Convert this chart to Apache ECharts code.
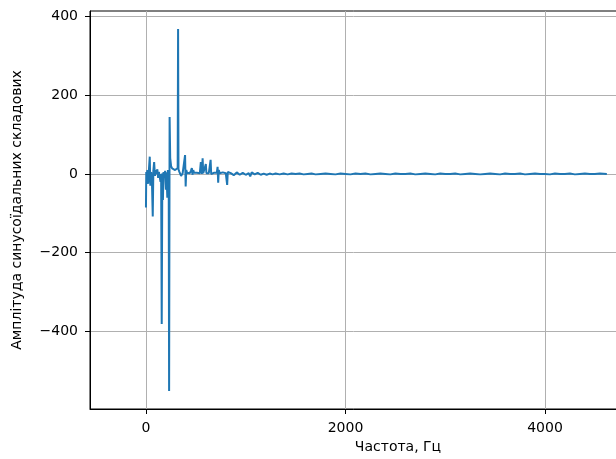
<!DOCTYPE html>
<html>
<head>
<meta charset="utf-8">
<script src="https://cdn.jsdelivr.net/npm/echarts@6/dist/echarts.min.js"></script>
<style>html,body{margin:0;padding:0;background:#fff;}#c{width:616px;height:459px;}</style>
</head>
<body>
<div id="c"></div>
<script>
// Frequency (Hz) and amplitude values
const freqs = [
  0, 3, 8, 14, 22, 28, 38, 44, 52, 60, 68, 74, 82, 90, 98, 106, 114, 122, 130, 138,
  146, 152, 158, 164, 170, 176, 184, 192, 200, 206, 214, 220, 228, 232, 237, 243, 252, 262, 272, 282,
  292, 302, 312, 318, 322, 326, 334, 344, 352, 360, 368, 376, 384, 392, 398, 404, 412, 420, 430, 440,
  450, 460, 466, 474, 482, 490, 500, 510, 520, 530, 540, 550, 560, 568, 574, 582, 590, 600, 606, 612,
  620, 630, 640, 648, 654, 662, 670, 680, 690, 700, 710, 718, 724, 730, 740, 750, 760, 770, 780, 790,
  800, 808, 814, 820, 830, 840, 850, 880, 910, 940, 970, 1000, 1030, 1045, 1060, 1090, 1120, 1150, 1180, 1210,
  1240, 1270, 1300, 1340, 1380, 1420, 1460, 1500, 1540, 1580, 1620, 1660, 1700, 1750, 1800, 1850, 1900, 1950, 2000, 2050,
  2100, 2150, 2200, 2250, 2300, 2350, 2400, 2450, 2500, 2550, 2600, 2650, 2700, 2750, 2800, 2850, 2900, 2950, 3000, 3050,
  3100, 3150, 3200, 3250, 3300, 3350, 3400, 3450, 3500, 3550, 3600, 3650, 3700, 3750, 3800, 3850, 3900, 3950, 4000, 4050,
  4100, 4150, 4200, 4250, 4300, 4350, 4400, 4450, 4500, 4550, 4620
];
const amps = [
  -85, 5, -15, 10, -25, 5, 44, -30, 5, -20, -108, 8, 30, -5, 10, 0, 12, -10, 5, 6,
  -20, 0, -381, 2, -66, 5, -10, 8, -40, 4, -60, 10, 0, -551, 145, 40, 20, 14, 15, 12,
  10, 8, 12, 15, 368, 12, 6, 3, -5, -7, 2, 4, -3, 48, -32, 10, 3, 5, 0, 2,
  8, 15, -2, 10, 3, 5, 2, 3, 0, 4, 2, 30, 0, 40, 2, 5, 3, 25, 2, 3,
  1, 2, 0, 36, 0, 3, 2, 3, 4, 0, 3, 18, -22, 10, 2, 3, 2, 4, 1, 3,
  2, 5, -28, 5, 0, 3, 2, -3, 4, -2, 3, -2, 2, -6, 4, -1, 3, -2, 1, -2,
  1, -1, 1, -1, 1, -1, 1, 0, 1, -1, 0, 1, -1, 0, 1, 0, -1, 1, 0, -1,
  1, 0, 1, -1, 0, 1, 0, -1, 1, 0, 0, 1, -1, 0, 1, 0, -1, 1, 0, 0,
  1, -1, 0, 1, 0, -1, 0, 1, 0, -1, 1, 0, 0, 1, -1, 0, 1, 0, 0, -1,
  1, 0, 0, 1, -1, 0, 1, 0, 0, 1, 0
];
const xTicks = [0, 2000, 4000];
const yTicks = [-400, -200, 0, 200, 400];
const xLabel = 'Частота, Гц';
const yLabel = 'Амплітуда синусоїдальних складових';

const data = freqs.map((f, i) => [f, amps[i]]);
const font = 'DejaVu Sans';
const fmt = v => String(v).replace('-', '\u2212');
const chart = echarts.init(document.getElementById('c'), null, {renderer: 'canvas'});
chart.setOption({
  animation: false,
  backgroundColor: '#fff',
  grid: {left: 90, top: 11, width: 616, height: 398, outerBoundsMode: 'none', containLabel: false,
         show: true, borderColor: '#000', borderWidth: 1, backgroundColor: 'transparent'},
  xAxis: {
    type: 'value', min: -561, max: 5614,
    name: xLabel, nameLocation: 'middle', nameGap: 30,
    nameTextStyle: {fontFamily: font, fontSize: 14, color: '#000'},
    axisLine: {show: true, onZero: false, lineStyle: {color: '#000', width: 1}},
    axisTick: {show: true, inside: false, length: 5, customValues: xTicks, lineStyle: {color: '#000'}},
    axisLabel: {customValues: xTicks, margin: 12, fontFamily: font, fontSize: 14, color: '#000', formatter: fmt},
    splitLine: {show: true, lineStyle: {color: '#b0b0b0', width: 1}}
  },
  yAxis: {
    type: 'value', min: -597, max: 414,
    name: yLabel, nameLocation: 'middle', nameGap: 66,
    nameTextStyle: {fontFamily: font, fontSize: 14, color: '#000'},
    axisLine: {show: true, onZero: false, lineStyle: {color: '#000', width: 1}},
    axisTick: {show: true, inside: false, length: 5, customValues: yTicks, lineStyle: {color: '#000'}},
    axisLabel: {customValues: yTicks, margin: 12, fontFamily: font, fontSize: 14, color: '#000', formatter: fmt},
    splitLine: {show: true, lineStyle: {color: '#b0b0b0', width: 1}}
  },
  series: [{
    type: 'line', data: data, showSymbol: false, symbol: 'none',
    lineStyle: {color: '#1f77b4', width: 2}, clip: true
  }]
});
</script>
</body>
</html>
